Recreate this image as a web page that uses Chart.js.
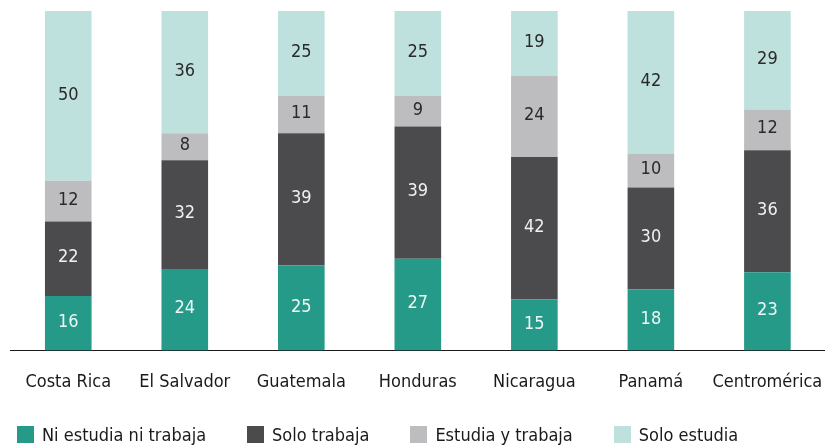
<!DOCTYPE html>
<html><head><meta charset="utf-8">
<script src="https://cdn.jsdelivr.net/npm/chart.js@4"></script>
<style>
html,body{margin:0;padding:0;overflow:hidden;background:#fff;width:825px;height:448px;position:relative}
#wrap{position:absolute;left:0;top:0;width:844px;height:448px}
#legend{position:absolute;left:17px;top:424px;display:flex;align-items:center;font-family:'DejaVu Sans Condensed','DejaVu Sans',sans-serif;font-size:18px;color:#1a1a1a}
.item{display:flex;align-items:center;margin-right:41px;white-space:nowrap}
.sw{width:17px;height:17px;margin-right:8px;flex:none}
</style></head>
<body>
<div id="wrap"><canvas id="c"></canvas></div>
<div id="legend"></div>
<script>
const categories = ['Costa Rica','El Salvador','Guatemala','Honduras','Nicaragua','Panamá','Centromérica'];
const seriesNames = ['Ni estudia ni trabaja','Solo trabaja','Estudia y trabaja','Solo estudia'];
const niEstudiaNiTrabaja = [16,24,25,27,15,18,23];
const soloTrabaja = [22,32,39,39,42,30,36];
const estudiaYTrabaja = [12,8,11,9,24,10,12];
const soloEstudia = [50,36,25,25,19,42,29];
const colors = ['#259a89','#4b4b4d','#bdbdbf','#bfe1de'];
const labelColors = ['#eef7f5','#f0f0f0','#2a2a2a','#2a2a2a'];
const FONT = "'DejaVu Sans Condensed','DejaVu Sans',sans-serif";

const seriesValues = [niEstudiaNiTrabaja, soloTrabaja, estudiaYTrabaja, soloEstudia];

const valueLabels = {
  id:'valueLabels',
  afterDatasetsDraw(chart){
    const ctx = chart.ctx;
    chart.data.datasets.forEach((ds,i)=>{
      const meta = chart.getDatasetMeta(i);
      meta.data.forEach((bar,j)=>{
        const p = bar.getProps(['x','y','base'], true);
        ctx.save();
        ctx.fillStyle = labelColors[i];
        ctx.font = '18px ' + FONT;
        ctx.textAlign = 'center';
        ctx.textBaseline = 'middle';
        ctx.fillText(String(ds.data[j]), p.x, (p.y + p.base)/2 - 1);
        ctx.restore();
      });
    });
  }
};

new Chart(document.getElementById('c'), {
  type:'bar',
  data:{
    labels: categories,
    datasets: seriesNames.map((n,i)=>({
      label:n, data:seriesValues[i], backgroundColor:colors[i],
      barPercentage:0.4, categoryPercentage:1, borderWidth:0
    }))
  },
  options:{
    responsive:true, maintainAspectRatio:false, animation:false,
    layout:{padding:{left:10,right:10,top:11,bottom:34}},
    plugins:{legend:{display:false}, tooltip:{enabled:false}},
    scales:{
      x:{stacked:true, grid:{display:false, drawTicks:false},
         border:{display:true,color:'#1a1a1a',width:1},
         ticks:{color:'#1a1a1a',padding:21,maxRotation:0,minRotation:0,autoSkip:false,font:{family:FONT,size:18}}},
      y:{stacked:true, display:false, min:0, max:100}
    }
  },
  plugins:[valueLabels]
});

const lg = document.getElementById('legend');
seriesNames.forEach((n,i)=>{
  const it = document.createElement('div'); it.className='item';
  const sw = document.createElement('span'); sw.className='sw'; sw.style.background=colors[i];
  const tx = document.createElement('span'); tx.textContent=n;
  it.appendChild(sw); it.appendChild(tx); lg.appendChild(it);
});
</script>
</body></html>
